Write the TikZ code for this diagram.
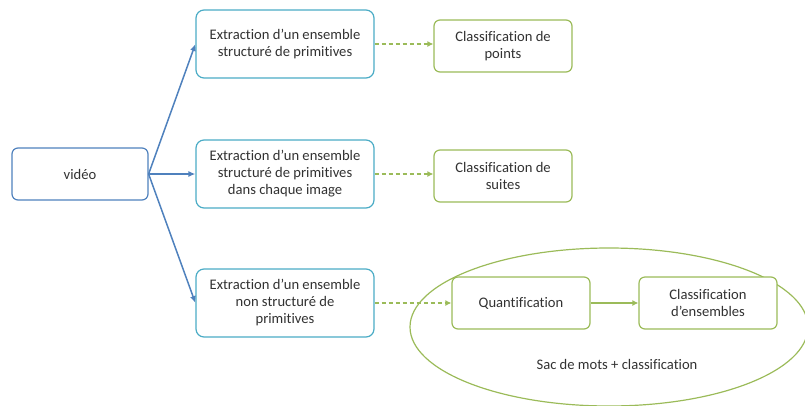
\documentclass[tikz,border=0pt]{standalone}
\usepackage{fontspec}
\setmainfont{Carlito}[Ligatures={NoCommon}]
\usetikzlibrary{arrows.meta,positioning,shapes.geometric}
\definecolor{vblue}{RGB}{79,129,189}
\definecolor{vcyan}{RGB}{75,172,198}
\definecolor{vgreen}{RGB}{155,187,89}
\definecolor{vtext}{RGB}{50,50,50}
\begin{document}
\begin{tikzpicture}[x=1pt, y=-1pt,
  every node/.style={font=\fontsize{14.6}{17}\selectfont, text=vtext},
  srcbox/.style={draw=vblue, line width=1.2pt, rounded corners=6pt, align=center,
    minimum width=136pt, minimum height=52pt},
  extbox/.style={draw=vcyan, line width=1.2pt, rounded corners=8pt, align=center,
    minimum width=178pt, minimum height=68pt, fill=white},
  clsbox/.style={draw=vgreen, line width=1.2pt, rounded corners=6pt, align=center,
    minimum width=138pt, minimum height=52pt, fill=white},
  arr/.style={-{Latex[length=7pt,width=6pt]}, vblue, line width=1.5pt},
  darr/.style={-{Latex[length=6pt,width=6pt]}, vgreen, line width=2pt, dash pattern=on 4pt off 3pt},
  garr/.style={-{Latex[length=6pt,width=6pt]}, vgreen, line width=2pt}
]
\useasboundingbox (0,0) rectangle (805,405);
\node[ellipse, draw=vgreen, line width=1.2pt, minimum width=398pt, minimum height=158pt] (sac) at (609,327) {};
\node[srcbox] (video) at (80,174) {vidéo};
\node[extbox] (ext1) at (285,44) {Extraction d’un ensemble\\structuré de primitives};
\node[extbox] (ext2) at (285,174) {Extraction d’un ensemble\\structuré de primitives\\dans chaque image};
\node[extbox] (ext3) at (285,303) {Extraction d’un ensemble\\non structuré de\\primitives};
\node[clsbox] (cls1) at (503,46) {Classification de\\points};
\node[clsbox] (cls2) at (503,176) {Classification de\\suites};
\node[clsbox] (quant) at (521,303) {Quantification};
\node[clsbox] (cls3) at (708,303) {Classification\\d’ensembles};
\node (saclbl) at (617,364) {Sac de mots + classification};

\draw[arr] (video.east) -- (ext1.west);
\draw[arr] (video.east) -- (ext2.west);
\draw[arr] (video.east) -- (ext3.west);
\draw[darr] (ext1.east) -- (cls1.west |- ext1.east);
\draw[darr] (ext2.east) -- (cls2.west |- ext2.east);
\draw[darr] (ext3.east) -- (quant.west);
\draw[garr] (quant) -- (cls3);
\end{tikzpicture}
\end{document}
